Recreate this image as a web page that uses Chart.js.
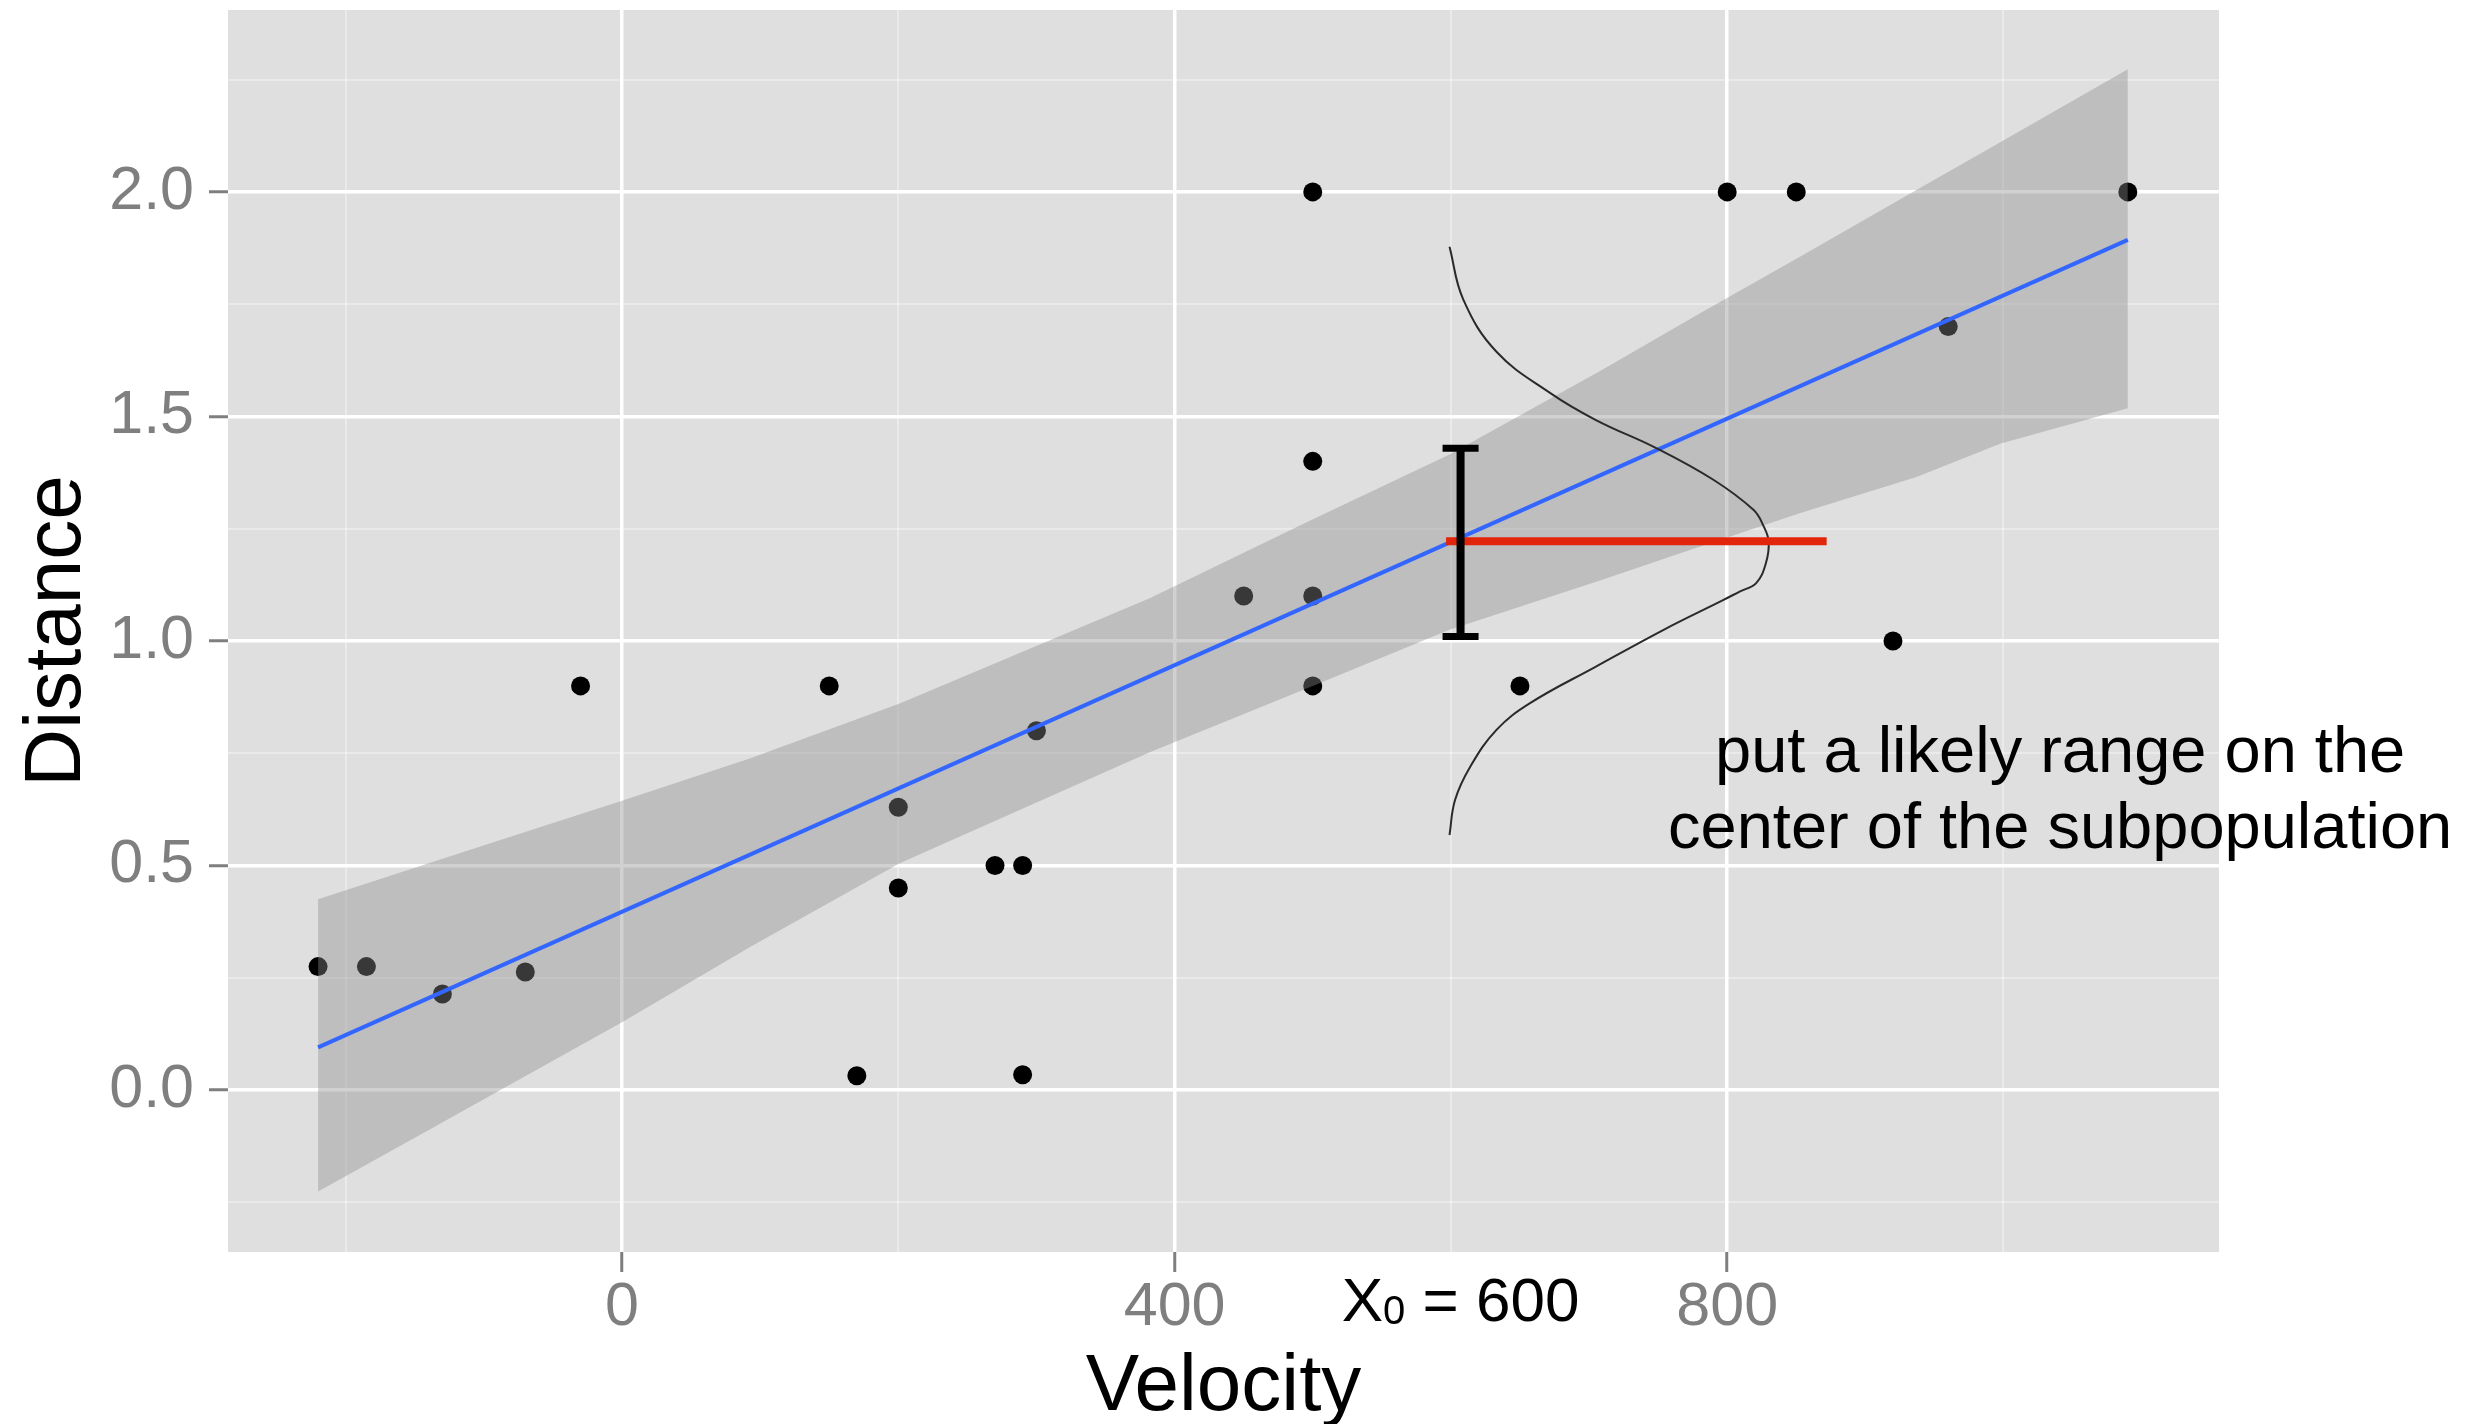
<!DOCTYPE html>
<html lang="en">
<head>
    <meta charset="UTF-8">
    <title>Velocity vs Distance</title>
    <script src="https://cdn.jsdelivr.net/npm/chart.js"></script>
    <style>
        body {
            margin: 0;
            background-color: #ffffff;
        }
        #wrap {
            width: 2487px;
            height: 1424px;
        }
    </style>
</head>
<body>
    <div id="wrap"><canvas id="chart" width="2487" height="1424"></canvas></div>

    <script>
        // observed points
        var velocity = [170, 290, -130, -70, -185, -220, 200, 290, 270, 200, 300, -30, 650, 150, 500, 920, 450, 500, 500, 960, 500, 850, 800, 1090];
        var distance = [0.032, 0.034, 0.214, 0.263, 0.275, 0.275, 0.45, 0.5, 0.5, 0.63, 0.8, 0.9, 0.9, 0.9, 0.9, 1.0, 1.1, 1.1, 1.4, 1.7, 2.0, 2.0, 2.0, 2.0];

        // fitted line (end points) and its band
        var fitX = [-220, 1090];
        var fitY = [0.095, 1.893];
        var bandX = [-220, -136, -88, 0, 93, 201, 382, 496, 599, 709, 781, 853, 937, 998, 1090];
        var bandUpper = [0.425, 0.509, 0.557, 0.644, 0.739, 0.861, 1.095, 1.265, 1.415, 1.603, 1.731, 1.856, 2.004, 2.111, 2.273];
        var bandLower = [-0.226, -0.082, 0.0, 0.151, 0.319, 0.505, 0.752, 0.895, 1.025, 1.136, 1.211, 1.285, 1.365, 1.44, 1.518];

        // annotation at X0 = 600
        var barX = [607, 607];
        var barY = [1.01, 1.429];
        var centerX = [596.5, 872];
        var centerY = [1.222, 1.222];
        var bellX = [599, 609, 633, 672, 705, 749, 790, 819, 826, 830, 828, 821, 809, 797, 754, 705, 657, 633, 614, 603, 599];
        var bellY = [1.878, 1.760, 1.644, 1.552, 1.492, 1.429, 1.359, 1.292, 1.258, 1.222, 1.173, 1.129, 1.110, 1.091, 1.025, 0.943, 0.861, 0.802, 0.720, 0.646, 0.568];

        // labelled ticks
        var xTicks = [0, 400, 800];
        var yTicks = [0.0, 0.5, 1.0, 1.5, 2.0];

        var FONT = "'Liberation Sans', Arial, sans-serif";
        Chart.defaults.font.family = FONT;

        function pts(xs, ys) {
            return xs.map(function (x, i) { return { x: x, y: ys[i] }; });
        }

        function isMajorX(v) { return xTicks.indexOf(v) >= 0; }
        function isMajorY(v) {
            return yTicks.some(function (t) { return Math.abs(t - v) < 1e-6; });
        }

        // grey panel behind the grid
        var panel = {
            id: 'panel',
            beforeDraw: function (chart) {
                var a = chart.chartArea, ctx = chart.ctx;
                ctx.save();
                ctx.fillStyle = '#dfdfdf';
                ctx.fillRect(a.left, a.top, a.right - a.left, a.bottom - a.top);
                ctx.restore();
            }
        };

        // text notes
        var notes = {
            id: 'notes',
            afterDraw: function (chart) {
                var ctx = chart.ctx, xs = chart.scales.x, ys = chart.scales.y;
                var big = '62px ' + FONT, small = '40px ' + FONT;
                ctx.save();
                ctx.fillStyle = '#000000';
                ctx.textBaseline = 'alphabetic';
                ctx.textAlign = 'left';

                ctx.font = big;
                var wX = ctx.measureText('X').width;
                var wRest = ctx.measureText(' = 600').width;
                ctx.font = small;
                var w0 = ctx.measureText('0').width;
                var left = xs.getPixelForValue(607) - (wX + w0 + wRest) / 2;
                var base = chart.chartArea.bottom + 69;
                ctx.font = big;
                ctx.fillText('X', left, base);
                ctx.font = small;
                ctx.fillText('0', left + wX, base + 3);
                ctx.font = big;
                ctx.fillText(' = 600', left + wX + w0, base);

                ctx.font = '65px ' + FONT;
                ctx.textAlign = 'center';
                var cx = xs.getPixelForValue(1041);
                ctx.fillText('put a likely range on the', cx, ys.getPixelForValue(0.709));
                ctx.fillText('center of the subpopulation', cx, ys.getPixelForValue(0.540));
                ctx.restore();
            }
        };

        var chart = new Chart(document.getElementById('chart'), {
            type: 'scatter',
            data: {
                datasets: [
                    {
                        // error bar
                        data: pts(barX, barY),
                        showLine: true,
                        borderColor: '#000000',
                        borderWidth: 8,
                        pointStyle: 'line',
                        pointRadius: 18,
                        pointBorderWidth: 7,
                        pointBorderColor: '#000000',
                        order: 0
                    },
                    {
                        data: pts(centerX, centerY),
                        showLine: true,
                        borderColor: '#e1260c',
                        borderWidth: 8,
                        pointRadius: 0,
                        order: 1
                    },
                    {
                        data: pts(bellX, bellY),
                        showLine: true,
                        borderColor: '#2a2a2a',
                        borderWidth: 2,
                        tension: 0.4,
                        pointRadius: 0,
                        order: 2
                    },
                    {
                        data: pts(fitX, fitY),
                        showLine: true,
                        borderColor: '#3366ff',
                        borderWidth: 4,
                        pointRadius: 0,
                        order: 3
                    },
                    {
                        data: pts(bandX, bandUpper),
                        showLine: true,
                        borderWidth: 0,
                        borderColor: 'rgba(0,0,0,0)',
                        backgroundColor: 'rgba(140,140,140,0.4)',
                        fill: '+1',
                        pointRadius: 0,
                        order: 4
                    },
                    {
                        data: pts(bandX, bandLower),
                        showLine: true,
                        borderWidth: 0,
                        borderColor: 'rgba(0,0,0,0)',
                        pointRadius: 0,
                        order: 5
                    },
                    {
                        data: pts(velocity, distance),
                        backgroundColor: '#000000',
                        pointRadius: 9.5,
                        pointBorderWidth: 0,
                        order: 6
                    }
                ]
            },
            options: {
                responsive: false,
                animation: false,
                devicePixelRatio: 1,
                layout: {
                    autoPadding: false,
                    padding: { left: 0, top: 10, right: 268, bottom: 0 }
                },
                plugins: {
                    legend: { display: false },
                    tooltip: { enabled: false }
                },
                scales: {
                    x: {
                        type: 'linear',
                        min: -285.2,
                        max: 1156,
                        border: { display: false },
                        grid: {
                            color: function (c) { return c.tick && isMajorX(c.tick.value) ? '#ffffff' : 'rgba(255,255,255,0.35)'; },
                            lineWidth: function (c) { return c.tick && isMajorX(c.tick.value) ? 3.5 : 2; },
                            tickColor: function (c) { return c.tick && isMajorX(c.tick.value) ? '#7f7f7f' : 'rgba(0,0,0,0)'; },
                            tickLength: 20,
                            tickWidth: 3
                        },
                        ticks: {
                            stepSize: 200,
                            includeBounds: false,
                            autoSkip: false,
                            maxRotation: 0,
                            color: '#7f7f7f',
                            font: { size: 61, lineHeight: 1 },
                            padding: 6,
                            callback: function (v) { return isMajorX(v) ? String(v) : ''; }
                        },
                        title: {
                            display: true,
                            text: 'Velocity',
                            color: '#000000',
                            font: { size: 80, lineHeight: 0.9 },
                            padding: 0
                        },
                        afterFit: function (s) {
                            s.height = 172;
                            s.paddingLeft = 0;
                            s.paddingRight = 0;
                        }
                    },
                    y: {
                        type: 'linear',
                        min: -0.3605,
                        max: 2.405,
                        border: { display: false },
                        grid: {
                            color: function (c) { return c.tick && isMajorY(c.tick.value) ? '#ffffff' : 'rgba(255,255,255,0.35)'; },
                            lineWidth: function (c) { return c.tick && isMajorY(c.tick.value) ? 3.5 : 2; },
                            tickColor: function (c) { return c.tick && isMajorY(c.tick.value) ? '#7f7f7f' : 'rgba(0,0,0,0)'; },
                            tickLength: 19,
                            tickWidth: 3
                        },
                        ticks: {
                            stepSize: 0.25,
                            includeBounds: false,
                            autoSkip: false,
                            color: '#7f7f7f',
                            font: { size: 61 },
                            padding: 15,
                            callback: function (v) { return isMajorY(v) ? v.toFixed(1) : ''; }
                        },
                        title: {
                            display: true,
                            text: 'Distance',
                            color: '#000000',
                            font: { size: 80, lineHeight: 0.9 },
                            padding: { top: 22, bottom: 0 }
                        },
                        afterFit: function (s) {
                            s.width = 228;
                            s.paddingTop = 0;
                            s.paddingBottom = 0;
                        }
                    }
                }
            },
            plugins: [panel, notes]
        });
    </script>
</body>
</html>
